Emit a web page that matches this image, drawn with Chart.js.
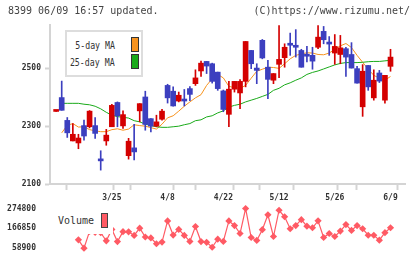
<!DOCTYPE html>
<html>
<head>
<meta charset="utf-8">
<script src="https://cdn.jsdelivr.net/npm/chart.js@4.4.1/dist/chart.umd.min.js"></script>
<style>
  body { margin: 0; background: #fff; }
  #wrap { position: relative; width: 420px; height: 259px; overflow: hidden; font-family: "DejaVu Sans Mono", monospace; color: #333; }
  canvas { position: absolute; left: 0; top: 0; }
  .txt { position: absolute; white-space: nowrap; }
  .lg { position: absolute; font-size: 11px; line-height: 11px; white-space: nowrap; transform: scaleX(0.75); transform-origin: right center; }
  .sw { position: absolute; border: 1px solid #333; }
</style>
</head>
<body>
<div id="wrap">
  <canvas id="priceChart" width="420" height="259"></canvas>
  <canvas id="volumeChart" width="420" height="259"></canvas>

  <div class="txt" style="left:8px;top:5px;font-size:10px;color:#444">8399 06/09 16:57 updated.</div>
  <div class="txt" style="right:10px;top:5px;font-size:10px;color:#444">(C)https://www.rizumu.net/</div>

  <div style="position:absolute;left:65px;top:30px;width:74px;height:43px;border:2px solid #ddd;background:#fff"></div>
  <div class="lg" style="right:305px;top:40px">5-day MA</div>
  <div class="lg" style="right:305px;top:57px">25-day MA</div>
  <div class="sw" style="left:131px;top:37px;width:6px;height:13px;background:#f7931e"></div>
  <div class="sw" style="left:131px;top:54px;width:6px;height:13px;background:#1aaa1a"></div>

  <div style="position:absolute;left:55px;top:206px;width:58px;height:28px;background:#fff"></div>
  <div class="txt" style="left:58px;top:216px;font-size:10px;line-height:10px">Volume</div>
  <div class="sw" style="left:101px;top:213px;width:5px;height:13px;background:#ff5a64;border-color:#444"></div>
</div>
<script>
// tick labels on the date axis (candle index -> label)
const dateLabels = ["3/25", "4/8", "4/22", "5/12", "5/26", "6/9"];
const labelIndex = [10, 20, 30, 40, 50, 60];
const priceTicks = [2100, 2300, 2500];
const volumeTicks = [58900, 166850, 274800];

const opens = [2351, 2399, 2320, 2249, 2242, 2302, 2298, 2302, 2185, 2249, 2298, 2382, 2301, 2198, 2225, 2353, 2401, 2326, 2300, 2324,
  2441, 2421, 2387, 2393, 2430, 2447, 2491, 2524, 2516, 2487, 2422, 2341, 2428, 2415, 2455, 2562, 2501, 2597, 2504, 2459,
  2514, 2537, 2586, 2579, 2562, 2549, 2545, 2573, 2628, 2591, 2553, 2548, 2568, 2548, 2499, 2367, 2510, 2398, 2484, 2390, 2507];
const highs = [2352, 2456, 2330, 2309, 2272, 2321, 2354, 2330, 2215, 2289, 2376, 2384, 2353, 2258, 2306, 2378, 2421, 2326, 2338, 2358,
  2445, 2436, 2418, 2427, 2437, 2495, 2525, 2524, 2518, 2487, 2425, 2455, 2455, 2461, 2593, 2562, 2516, 2600, 2528, 2482,
  2648, 2585, 2622, 2634, 2566, 2576, 2573, 2648, 2645, 2610, 2617, 2614, 2573, 2589, 2507, 2513, 2510, 2495, 2493, 2476, 2566];
const lows = [2351, 2355, 2261, 2249, 2222, 2252, 2294, 2258, 2148, 2234, 2298, 2298, 2292, 2186, 2183, 2315, 2286, 2280, 2298, 2321,
  2380, 2369, 2384, 2370, 2388, 2441, 2472, 2482, 2449, 2424, 2350, 2298, 2418, 2361, 2436, 2499, 2447, 2533, 2395, 2447,
  2468, 2504, 2545, 2539, 2504, 2522, 2497, 2568, 2585, 2545, 2514, 2516, 2472, 2501, 2449, 2334, 2424, 2390, 2451, 2380, 2490];
const closes = [2352, 2355, 2277, 2272, 2259, 2266, 2352, 2275, 2180, 2269, 2372, 2336, 2340, 2248, 2211, 2378, 2306, 2300, 2315, 2352,
  2398, 2370, 2407, 2387, 2410, 2467, 2518, 2508, 2455, 2430, 2358, 2428, 2455, 2455, 2593, 2516, 2493, 2536, 2462, 2482,
  2531, 2573, 2580, 2573, 2504, 2542, 2525, 2608, 2599, 2584, 2576, 2571, 2539, 2501, 2449, 2490, 2436, 2459, 2456, 2476, 2539];
const ma5 = [null, 2277, 2303, 2309, 2297, 2298, 2288, 2284, 2281, 2281, 2288, 2291, 2286, 2290, 2305, 2302, 2300, 2295, 2290, 2307,
  2329, 2336, 2352, 2369, 2384, 2398, 2409, 2441, 2464, 2479, 2467, 2438, 2433, 2431, 2441, 2466, 2490, 2497, 2504, 2503,
  2500, 2516, 2533, 2545, 2550, 2554, 2553, 2548, 2547, 2553, 2566, 2578, 2586, 2572, 2545, 2521, 2497, 2476, 2466, 2459, 2472];
const ma25 = [null, 2379, 2379, 2379, 2379, 2376, 2374, 2369, 2360, 2348, 2338, 2333, 2331, 2328, 2319, 2315, 2307, 2302, 2298, 2296,
  2296, 2298, 2300, 2305, 2309, 2319, 2322, 2332, 2336, 2346, 2353, 2366, 2372, 2376, 2384, 2390, 2396, 2403, 2410, 2424,
  2431, 2443, 2450, 2459, 2467, 2479, 2486, 2491, 2498, 2505, 2512, 2517, 2520, 2520, 2520, 2521, 2523, 2524, 2524, 2526, 2528];
const volumes = [null, null, null, null, 104400, 58900, 150400, 145200, 143000, 99100, 161000, 94900, 148900, 147800, 128200, 167900, 119800, 115000, 83200, 92200,
  207100, 130300, 161000, 128200, 95900, 176900, 94900, 90700, 64200, 108100, 95900, 207100, 182200, 138800, 274800, 117100, 101200, 159400, 240400, 122400,
  265300, 229800, 164700, 182200, 214000, 178500, 170000, 207600, 117100, 138800, 122400, 152000, 187500, 155700, 182200, 164700, 129300, 129300, 102800, 143600, 170000];

const UP = "#d40000";
const DOWN = "#3c3fbf";
const AXIS = "#d4d4d4";
const X_MIN = -1.1, X_MAX = 62.6;
const tickFont = { family: "DejaVu Sans Mono", size: 8, weight: "bold" };

const candleColor = (ctx) => {
  const i = ctx.dataIndex;
  return closes[i] >= opens[i] ? UP : DOWN;
};

new Chart(document.getElementById("priceChart"), {
  type: "bar",
  data: {
    datasets: [
      {
        type: "line",
        data: ma25.map((v, i) => ({ x: i, y: v })),
        borderColor: "#1aaa1a",
        borderWidth: 1,
        pointRadius: 0,
        order: 3,
      },
      {
        type: "line",
        data: ma5.map((v, i) => ({ x: i, y: v })),
        borderColor: "#f7931e",
        borderWidth: 1,
        pointRadius: 0,
        order: 3,
      },
      {
        // wicks
        data: lows.map((v, i) => ({ x: i, y: [v, highs[i]] })),
        backgroundColor: candleColor,
        barThickness: 1,
        grouped: false,
        order: 2,
      },
      {
        // bodies
        data: opens.map((v, i) => ({ x: i, y: [v, closes[i]] })),
        backgroundColor: candleColor,
        barThickness: 5,
        minBarLength: 2,
        grouped: false,
        order: 1,
      },
    ],
  },
  options: {
    responsive: false,
    animation: false,
    devicePixelRatio: 1,
    layout: { padding: { top: 25, right: 15, bottom: 55, left: 0 } },
    plugins: { legend: { display: false }, tooltip: { enabled: false } },
    scales: {
      x: {
        type: "linear",
        min: X_MIN,
        max: X_MAX,
        offset: false,
        afterBuildTicks: (scale) => {
          const t = [];
          for (let k = 0; k <= 11; k++) t.push({ value: scale.min + (k * (scale.max - scale.min)) / 11 });
          labelIndex.forEach((v) => t.push({ value: v }));
          t.sort((a, b) => a.value - b.value);
          scale.ticks = t;
        },
        afterFit: (scale) => { scale.height = 20; },
        ticks: {
          autoSkip: false,
          maxRotation: 0,
          padding: 3,
          color: "#333",
          font: tickFont,
          callback: (v) => {
            const k = labelIndex.indexOf(v);
            return k >= 0 ? dateLabels[k] : "";
          },
        },
        grid: {
          drawOnChartArea: false,
          tickLength: 6,
          tickWidth: 2,
          tickColor: (ctx) => (ctx.tick && labelIndex.includes(ctx.tick.value) ? "rgba(0,0,0,0)" : AXIS),
        },
        border: { color: AXIS, width: 2 },
      },
      y: {
        min: 2100,
        max: 2650,
        afterBuildTicks: (scale) => { scale.ticks = priceTicks.map((v) => ({ value: v })); },
        afterFit: (scale) => { scale.width = 50; },
        ticks: { padding: 4, color: "#333", font: tickFont, callback: (v) => String(v) },
        grid: { drawOnChartArea: false, tickLength: 5, tickWidth: 2, tickColor: AXIS },
        border: { color: AXIS, width: 2 },
      },
    },
  },
});

new Chart(document.getElementById("volumeChart"), {
  type: "line",
  data: {
    datasets: [
      {
        data: volumes.map((v, i) => ({ x: i, y: v })),
        borderColor: "#ff5a64",
        borderWidth: 1.2,
        pointStyle: "rectRot",
        pointRadius: 3.6,
        pointBackgroundColor: "#ff5a64",
        pointBorderWidth: 0,
        clip: false,
      },
    ],
  },
  options: {
    responsive: false,
    animation: false,
    devicePixelRatio: 1,
    layout: { padding: { top: 208.5, right: 15, bottom: 9.7, left: 0 } },
    plugins: { legend: { display: false }, tooltip: { enabled: false } },
    scales: {
      x: { type: "linear", min: X_MIN, max: X_MAX, display: false },
      y: {
        min: 58900,
        max: 274800,
        afterBuildTicks: (scale) => { scale.ticks = volumeTicks.map((v) => ({ value: v })); },
        afterFit: (scale) => { scale.width = 50; },
        ticks: { padding: 6, color: "#333", font: tickFont, callback: (v) => String(v) },
        grid: { display: false },
        border: { display: false },
      },
    },
  },
});
</script>
</body>
</html>
